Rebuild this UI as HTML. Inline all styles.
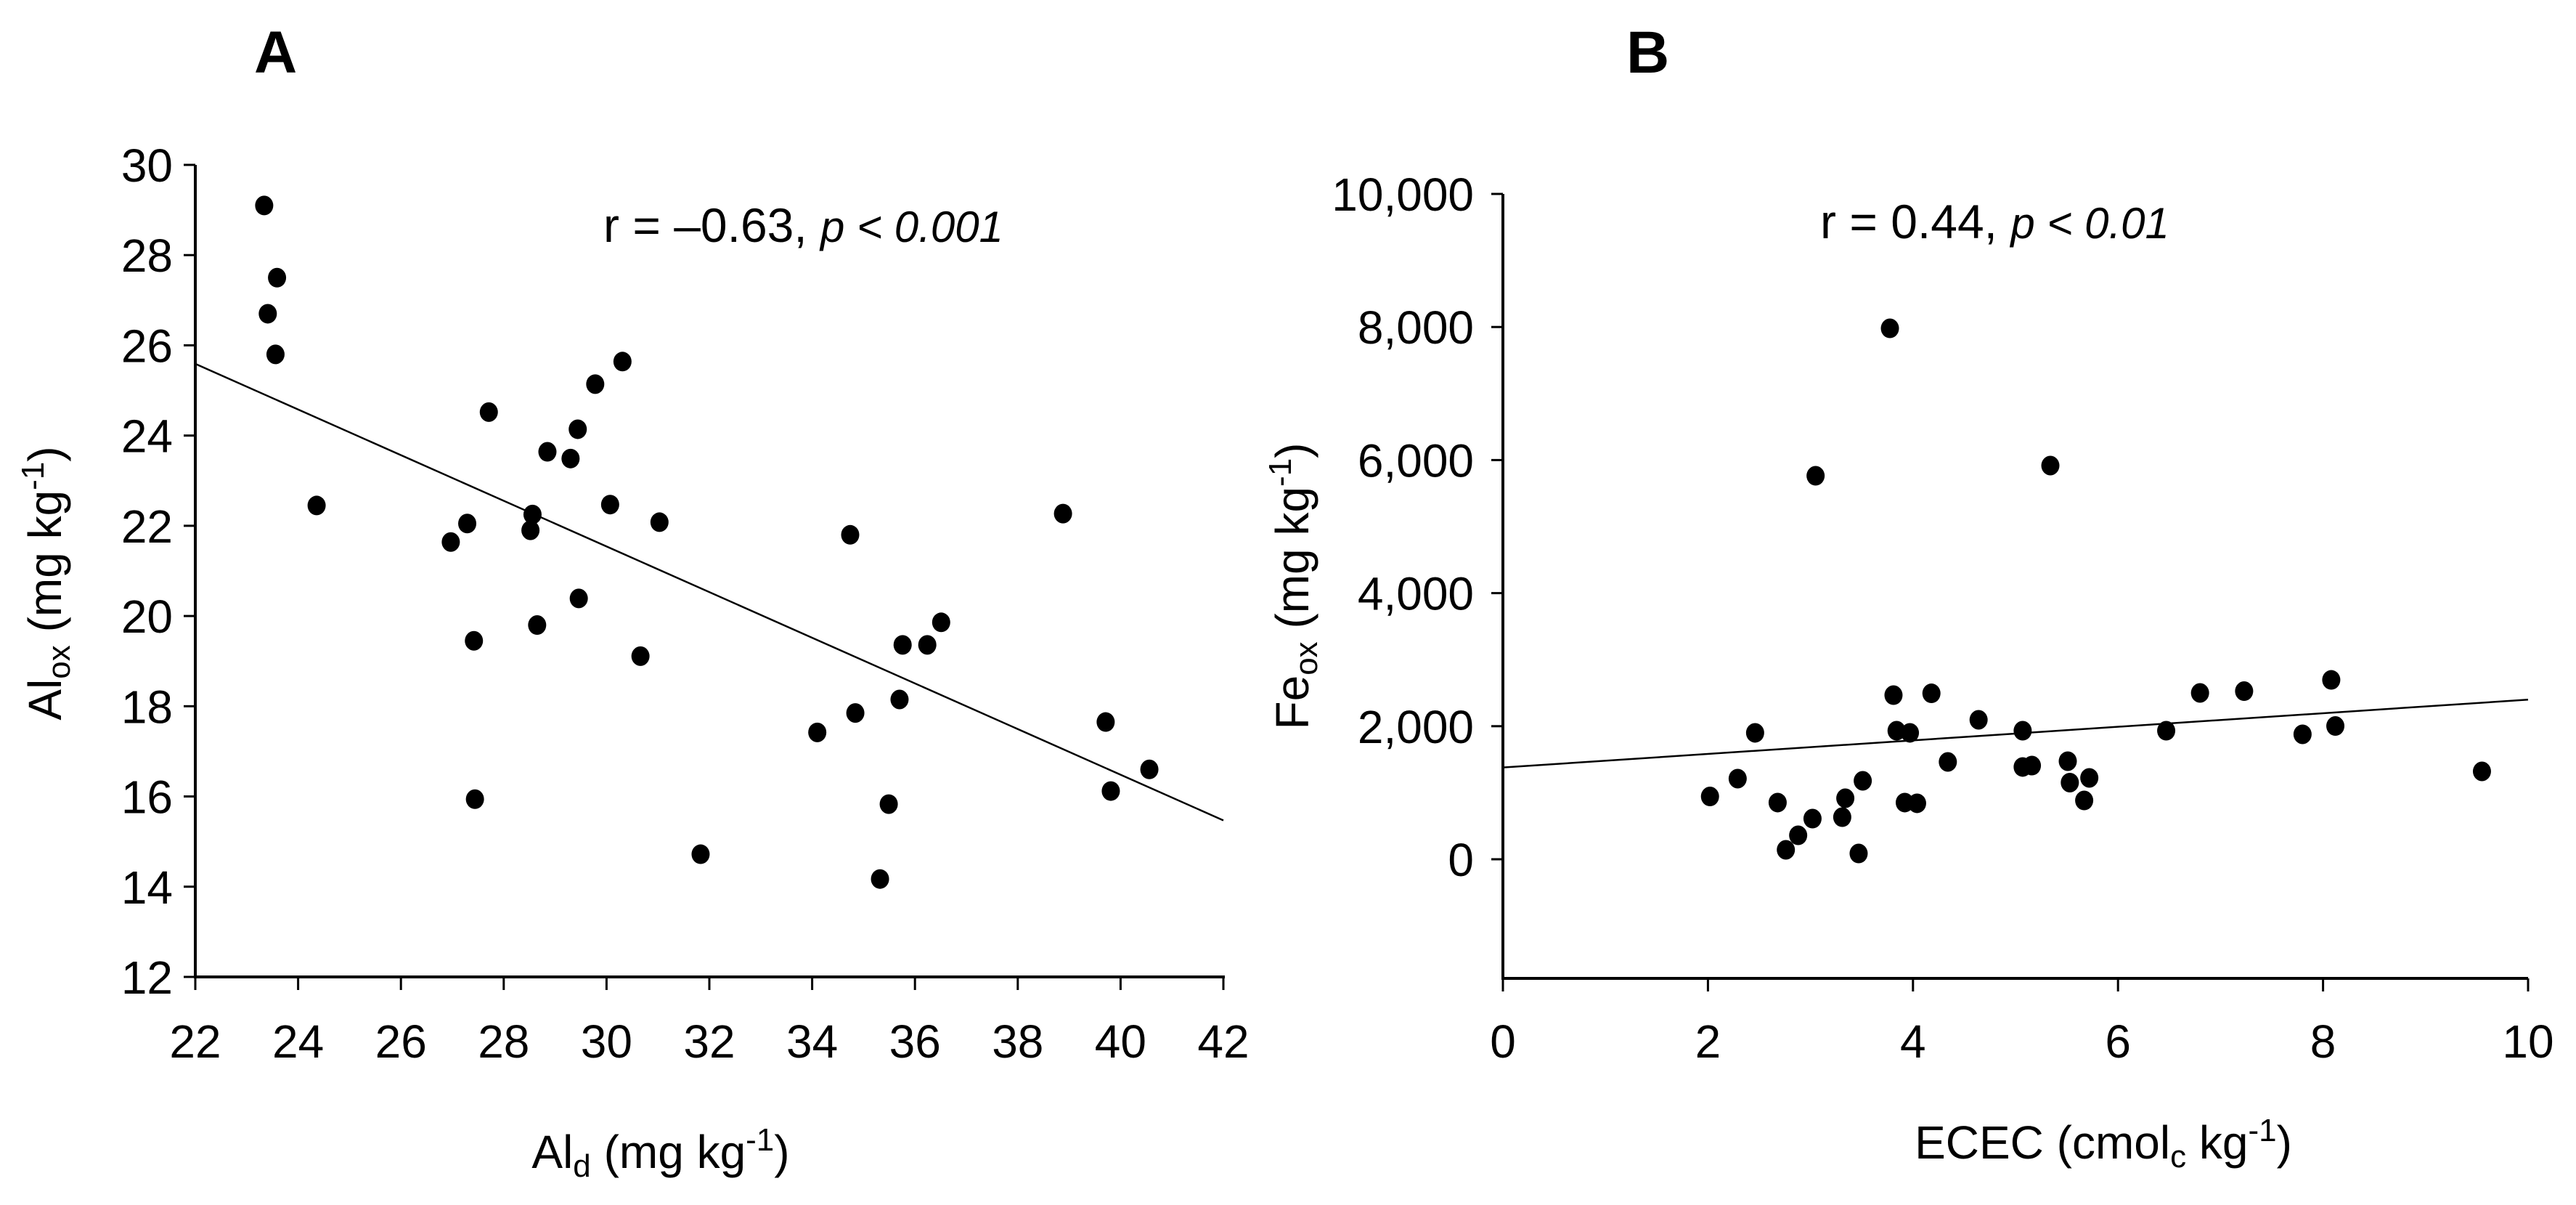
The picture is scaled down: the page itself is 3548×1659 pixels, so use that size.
<!DOCTYPE html>
<html><head><meta charset="utf-8"><style>
html,body{margin:0;padding:0;background:#fff;}
svg{display:block;font-family:"Liberation Sans",Arial,sans-serif;}
</style></head><body>
<svg id="chart" width="3548" height="1659" viewBox="0 0 3548 1659" xmlns="http://www.w3.org/2000/svg">
<text x="350" y="100" font-size="82" font-weight="bold">A</text>
<text x="2240" y="100" font-size="82" font-weight="bold">B</text>
<text x="831" y="333" font-size="66">r = –0.63, <tspan font-style="italic" font-size="60">p &lt; 0.001</tspan></text>
<text x="2507" y="328" font-size="66">r = 0.44, <tspan font-style="italic" font-size="60">p &lt; 0.01</tspan></text>
<text x="910" y="1608" font-size="64" text-anchor="middle">Al<tspan font-size="44" dy="12">d</tspan><tspan dy="-12"> (mg kg</tspan><tspan font-size="44" dy="-24">-1</tspan><tspan dy="24">)</tspan></text>
<text x="2897" y="1595" font-size="64" text-anchor="middle">ECEC (cmol<tspan font-size="44" dy="12">c</tspan><tspan dy="-12"> kg</tspan><tspan font-size="44" dy="-24">-1</tspan><tspan dy="24">)</tspan></text>
<text transform="translate(84,803) rotate(-90)" font-size="64" text-anchor="middle">Al<tspan font-size="44" dy="12">ox</tspan><tspan dy="-12"> (mg kg</tspan><tspan font-size="44" dy="-24">-1</tspan><tspan dy="24">)</tspan></text>
<text transform="translate(1802,807) rotate(-90)" font-size="64" text-anchor="middle">Fe<tspan font-size="44" dy="12">ox</tspan><tspan dy="-12"> (mg kg</tspan><tspan font-size="44" dy="-24">-1</tspan><tspan dy="24">)</tspan></text>
</svg>
<script>
const aXTicks = [22,24,26,28,30,32,34,36,38,40,42];
const aYTicks = [12,14,16,18,20,22,24,26,28,30];
const aX = [23.34,23.41,23.59,23.56,24.36,26.97,27.29,27.42,27.44,27.71,28.56,28.52,28.65,28.85,29.30,29.44,29.46,29.78,30.31,30.07,30.66,31.03,31.83,34.10,34.74,34.84,35.49,35.32,35.70,35.76,36.24,36.51,38.88,39.71,39.81,40.56];
const aY = [29.1,26.7,27.5,25.8,22.45,21.64,22.05,19.45,15.94,24.52,22.25,21.9,19.8,23.64,23.49,24.14,20.39,25.14,25.64,22.47,19.11,22.08,14.72,17.42,21.80,17.85,15.83,14.17,18.15,19.36,19.36,19.86,22.27,17.65,16.12,16.60];
const aFit = [25.59, -0.506];
const bXTicks = [0,2,4,6,8,10];
const bYTicks = [0,2000,4000,6000,8000,10000];
const bYLabels = ["0","2,000","4,000","6,000","8,000","10,000"];
const bX = [3.775,3.05,5.34,3.81,4.18,2.46,3.84,3.97,4.64,5.07,4.34,5.07,5.16,5.51,5.53,5.72,5.67,2.29,2.02,2.68,3.02,2.88,2.76,3.34,3.51,3.31,3.47,3.92,4.04,6.47,6.80,7.23,7.80,8.08,8.12,9.55];
const bY = [7980,5764,5917,2467,2494,1900,1932,1900,2096,1932,1463,1387,1408,1474,1152,1223,884,1212,944,852,611,360,142,917,1179,633,87,852,841,1932,2500,2527,1878,2696,2003,1321];
const bFit = [1379, 102];

const NS="http://www.w3.org/2000/svg";
const svg=document.getElementById('chart');
function mk(tag,attrs){const e=document.createElementNS(NS,tag);for(const k in attrs)e.setAttribute(k,attrs[k]);svg.appendChild(e);return e;}
const axA={x:v=>269+(v-22)*70.8, y:v=>227+(30-v)*62.11};
const axB={x:v=>2070+(v-0)*141.2, y:v=>1183-v*0.0916};

function drawPanel(p,ax,xT,yT,yL,xs,ys,fit,xmin,xmax,yTopPx,yBotPx,xLeftPx,xRightPx,yLabRight,x0){
  let e;
  e=mk('line',{x1:xLeftPx,y1:yTopPx,x2:xLeftPx,y2:yBotPx+2,stroke:'#000','stroke-width':4});
  
  
  e=mk('line',{x1:xLeftPx-2,y1:yBotPx,x2:xRightPx,y2:yBotPx,stroke:'#000','stroke-width':4});
  
  
  xT.forEach(v=>{
    const x=ax.x(v);
    e=mk('line',{x1:x,y1:yBotPx,x2:x,y2:yBotPx+18,stroke:'#000','stroke-width':3});
    
    
    e=mk('text',{x:x,y:1456,'font-size':64,'text-anchor':'middle'});
    e.textContent=String(v);
    
    
  });
  yT.forEach((v,i)=>{
    const y=ax.y(v);
    e=mk('line',{x1:xLeftPx-16,y1:y,x2:xLeftPx,y2:y,stroke:'#000','stroke-width':3});
    
    
    e=mk('text',{x:yLabRight,y:y+23,'font-size':64,'text-anchor':'end'});
    e.textContent=yL?yL[i]:String(v);
    
    
  });
  e=mk('line',{x1:ax.x(xmin),y1:ax.y(fit[0]+fit[1]*(xmin-x0)),x2:ax.x(xmax),y2:ax.y(fit[0]+fit[1]*(xmax-x0)),stroke:'#000','stroke-width':2.5});
  
  
  xs.forEach((v,i)=>{
    e=mk('ellipse',{cx:ax.x(v),cy:ax.y(ys[i]),rx:12.5,ry:13.5,fill:'#000'});
    
    
  });
}
drawPanel('panel-a',axA,aXTicks,aYTicks,null,aX,aY,aFit,22,42,227,1345,269,1687,238,22);
drawPanel('panel-b',axB,bXTicks,bYTicks,bYLabels,bX,bY,bFit,0,10,267,1347,2070,3482,2030,0);
</script>
</body></html>
